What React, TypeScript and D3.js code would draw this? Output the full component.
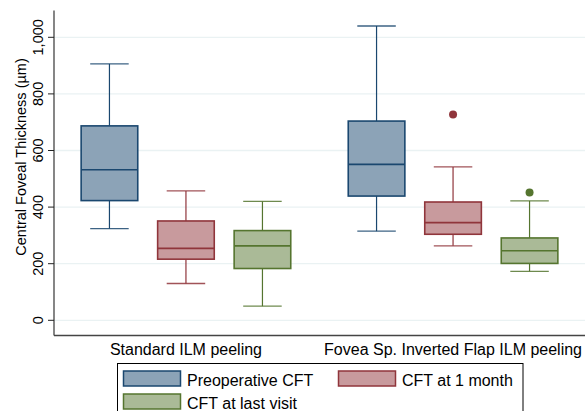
import React from "react";
import * as d3 from "d3";

// groups on the x axis
const groups = ["Standard ILM peeling", "Fovea Sp. Inverted Flap ILM peeling"];
// box series, in the order they are drawn inside a group
const series = ["Preoperative CFT", "CFT at 1 month", "CFT at last visit"];
const strokeColors = ["#1a476f", "#90353b", "#55752f"];
const fillColors = ["#8ca3b7", "#c89a9d", "#aaba97"];

// [lower whisker, q1, median, q3, upper whisker] for each group
const preoperative = [
  [324, 423, 532, 687, 906],
  [315, 439, 551, 704, 1040],
];
const oneMonth = [
  [130, 216, 254, 351, 457],
  [263, 304, 345, 418, 542],
];
const lastVisit = [
  [50, 183, 263, 317, 420],
  [173, 201, 246, 291, 422],
];
// outliers: [group index, value]
const preoperativeOut: number[][] = [];
const oneMonthOut = [[1, 727]];
const lastVisitOut = [[1, 452]];

const yTicks = [0, 200, 400, 600, 800, 1000];

const W = 585;
const H = 411;
const FONT = "'Liberation Sans', Arial, Helvetica, sans-serif";

export default function App() {
  const plot = { left: 54, right: 585, top: 10.5, bottom: 335.5 };

  const y = d3.scaleLinear().domain([0, 1000]).range([320.3, 37.3]);
  const xGroup = d3.scalePoint<string>().domain(groups).range([plot.left, plot.right]).padding(0.494);
  const xInner = d3
    .scaleBand<string>()
    .domain(series)
    .range([-114.75, 114.75])
    .paddingInner(0.26)
    .paddingOuter(0.13);

  const stats = [preoperative, oneMonth, lastVisit];
  const outliers = [preoperativeOut, oneMonthOut, lastVisitOut];
  const bw = xInner.bandwidth();
  const capW = bw * 0.68;
  const fmt = d3.format(",");

  return (
    <svg
      width={W}
      height={H}
      style={{ position: "absolute", left: 0, top: 0, background: "#fff" }}
      fontFamily={FONT}
    >
      {/* gridlines */}
      {yTicks.map((t) => (
        <line key={"g" + t} x1={plot.left} x2={plot.right} y1={y(t)} y2={y(t)} stroke="#eaf2f3" strokeWidth={1.3} />
      ))}

      {/* boxes */}
      {series.map((s, si) =>
        groups.map((g, gi) => {
          const [lo, q1, med, q3, hi] = stats[si][gi];
          const x0 = (xGroup(g) as number) + (xInner(s) as number);
          const cx = x0 + bw / 2;
          const col = strokeColors[si];
          return (
            <g key={s + g}>
              <line x1={cx} x2={cx} y1={y(hi)} y2={y(q3)} stroke={col} strokeWidth={1.2} />
              <line x1={cx} x2={cx} y1={y(q1)} y2={y(lo)} stroke={col} strokeWidth={1.2} />
              <line x1={cx - capW / 2} x2={cx + capW / 2} y1={y(hi)} y2={y(hi)} stroke={col} strokeWidth={1.3} strokeOpacity={0.85} />
              <line x1={cx - capW / 2} x2={cx + capW / 2} y1={y(lo)} y2={y(lo)} stroke={col} strokeWidth={1.3} strokeOpacity={0.85} />
              <rect
                x={x0}
                y={y(q3)}
                width={bw}
                height={y(q1) - y(q3)}
                fill={fillColors[si]}
                stroke={col}
                strokeWidth={1.6}
              />
              <line x1={x0} x2={x0 + bw} y1={y(med)} y2={y(med)} stroke={col} strokeWidth={1.6} />
              {outliers[si]
                .filter((o) => o[0] === gi)
                .map((o, k) => (
                  <circle key={k} cx={cx} cy={y(o[1])} r={4} fill={col} />
                ))}
            </g>
          );
        })
      )}

      {/* y axis */}
      <line x1={plot.left} x2={plot.left} y1={plot.top} y2={plot.bottom} stroke="#444" strokeWidth={1.3} />
      {yTicks.map((t) => (
        <g key={"t" + t}>
          <line x1={plot.left - 6} x2={plot.left} y1={y(t)} y2={y(t)} stroke="#222" strokeWidth={1} />
          <text
            transform={`translate(43,${y(t)}) rotate(-90)`}
            textAnchor="middle"
            fontSize={14.5}
            fill="#000"
          >
            {fmt(t)}
          </text>
        </g>
      ))}
      <text
        transform={`translate(25.5,${(plot.top + plot.bottom) / 2 - 16}) rotate(-90)`}
        textAnchor="middle"
        fontSize={14.5}
        fill="#000"
      >
        Central Foveal Thickness (µm)
      </text>

      {/* x axis */}
      <line x1={plot.left} x2={plot.right} y1={plot.bottom} y2={plot.bottom} stroke="#444" strokeWidth={1.3} />
      {groups.map((g) => (
        <text key={g} x={xGroup(g)} y={355} textAnchor="middle" fontSize={16} fill="#000">
          {g}
        </text>
      ))}

      {/* legend */}
      <rect x={117.5} y={363.5} width={405.5} height={60} fill="#fff" stroke="#000" strokeWidth={1} />
      {series.map((s, si) => {
        const col = si === 1 ? 1 : 0;
        const row = si === 2 ? 1 : 0;
        const lx = col === 0 ? 123.5 : 338.5;
        const ly = row === 0 ? 371 : 394;
        return (
          <g key={"l" + s}>
            <rect x={lx} y={ly} width={57} height={15} fill={fillColors[si]} stroke={strokeColors[si]} strokeWidth={1.5} />
            <text x={lx + 63.5} y={ly + 14.5} fontSize={16} fill="#000">
              {s}
            </text>
          </g>
        );
      })}
    </svg>
  );
}
